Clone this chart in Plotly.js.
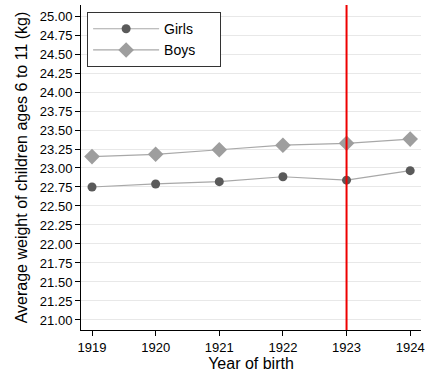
<!DOCTYPE html>
<html><head><meta charset="utf-8">
<script src="https://cdn.plot.ly/plotly-3.0.1.min.js"></script>
<style>html,body{margin:0;padding:0;background:#fff}#c{width:427px;height:374px}</style>
</head><body><div id="c"></div>
<script>
const years = [1919, 1920, 1921, 1922, 1923, 1924];
const girls = [22.75, 22.79, 22.82, 22.885, 22.84, 22.965];
const boys = [23.15, 23.18, 23.24, 23.30, 23.325, 23.38];
const seriesNames = ['Girls', 'Boys'];
const yTicks = [21.00,21.25,21.50,21.75,22.00,22.25,22.50,22.75,23.00,23.25,23.50,23.75,24.00,24.25,24.50,24.75,25.00];
const eventYear = 1923;

const pad = '\u00a0'.repeat(5);
const font = {family: 'Liberation Sans, Arial, sans-serif', color: '#000'};
const data = [
  {x: years, y: girls, name: seriesNames[0] + pad, mode: 'lines+markers', type: 'scatter',
   line: {color: '#a8a8a8', width: 1.2}, marker: {symbol: 'circle', size: 9, color: '#5a5a5a'}},
  {x: years, y: boys, name: seriesNames[1] + pad, mode: 'lines+markers', type: 'scatter',
   line: {color: '#a8a8a8', width: 1.2}, marker: {symbol: 'diamond', size: 12, color: '#9e9e9e'}}
];
const layout = {
  width: 427, height: 374,
  margin: {l: 81, r: 6, t: 5, b: 44},
  paper_bgcolor: '#fff', plot_bgcolor: '#fff',
  font: Object.assign({size: 13}, font),
  showlegend: true,
  legend: {x: 0.018, y: 0.978, xanchor: 'left', yanchor: 'top', bordercolor: '#333', borderwidth: 1,
           bgcolor: '#fff', font: Object.assign({size: 14}, font), itemwidth: 66, tracegroupgap: 0},
  xaxis: {range: [1918.827, 1924.17], tickvals: years, ticktext: years.map(String),
          showgrid: false, zeroline: false, showline: true, linecolor: '#000', linewidth: 1,
          ticks: 'outside', ticklen: 5, tickcolor: '#000', tickfont: Object.assign({size: 13}, font),
          title: {text: 'Year of birth', font: Object.assign({size: 16}, font), standoff: 3}},
  yaxis: {range: [20.868, 25.145], tickvals: yTicks, ticktext: yTicks.map(v => v.toFixed(2)),
          showgrid: true, gridcolor: '#e8e8e8', gridwidth: 1, zeroline: false,
          showline: true, linecolor: '#000', linewidth: 1, ticks: 'outside', ticklen: 5, tickcolor: '#000',
          tickfont: Object.assign({size: 13}, font),
          title: {text: 'Average weight of children ages 6 to 11 (kg)', font: Object.assign({size: 16}, font), standoff: 8}},
  shapes: [{type: 'line', xref: 'x', yref: 'paper', x0: eventYear, x1: eventYear, y0: 0, y1: 1,
            line: {color: '#ee0000', width: 2}}]
};
Plotly.newPlot('c', data, layout, {displayModeBar: false, staticPlot: true});
</script></body></html>
